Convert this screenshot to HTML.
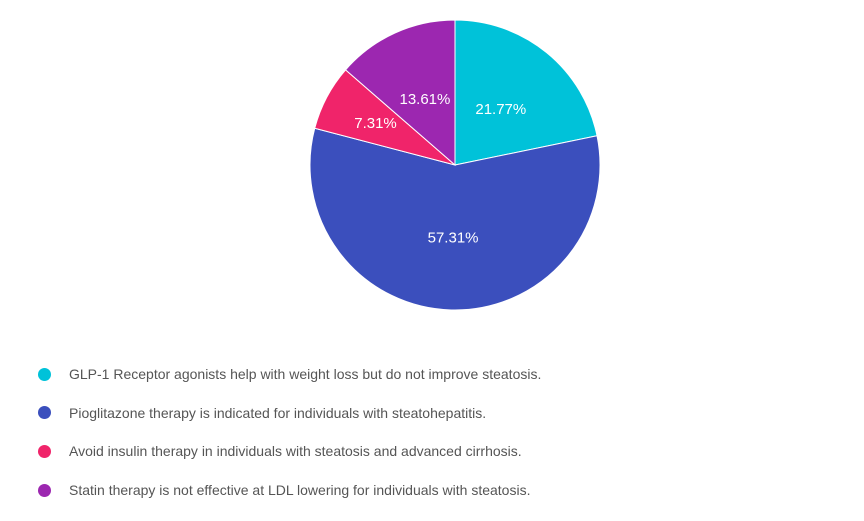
<!DOCTYPE html>
<html><head><meta charset="utf-8"><style>
body{margin:0;background:#fff;width:864px;height:521px;overflow:hidden;font-family:"Liberation Sans",Arial,sans-serif}
.leg{position:absolute;left:38px;font-size:14px;color:#555;display:flex;align-items:center}
.dot{width:13px;height:13px;border-radius:50%;margin-right:18px}
</style></head><body>
<svg id="chart" width="864" height="340" style="position:absolute;left:0;top:0"></svg>
<div id="legend"></div>
<script>
const categories=["GLP-1 Receptor agonists help with weight loss but do not improve steatosis.","Pioglitazone therapy is indicated for individuals with steatohepatitis.","Avoid insulin therapy in individuals with steatosis and advanced cirrhosis.","Statin therapy is not effective at LDL lowering for individuals with steatosis."];
const values=[21.77,57.31,7.31,13.61];
const colors=["#00c2d9","#3b4fbd","#f0246a","#9c27b0"];
const svg=document.getElementById('chart');const NS="http://www.w3.org/2000/svg";
const cx=455,cy=165,r=145;const total=values.reduce((a,b)=>a+b,0);
let a=0;
values.forEach((v,i)=>{
 const a0=a,a1=a+v/total*2*Math.PI;a=a1;
 const x0=cx+r*Math.sin(a0),y0=cy-r*Math.cos(a0),x1=cx+r*Math.sin(a1),y1=cy-r*Math.cos(a1);
 const p=document.createElementNS(NS,'path');
 p.setAttribute('d',`M${cx},${cy}L${x0},${y0}A${r},${r} 0 ${a1-a0>Math.PI?1:0} 1 ${x1},${y1}Z`);
 p.setAttribute('fill',colors[i]);p.setAttribute('stroke','#fff');p.setAttribute('stroke-width','1');
 
 
 svg.appendChild(p);
 const m=(a0+a1)/2,lr=r*0.5+(v<10?r*0.12:0);
 const t=document.createElementNS(NS,'text');
 t.setAttribute('x',cx+lr*Math.sin(m));t.setAttribute('y',cy-lr*Math.cos(m)+5);
 t.setAttribute('fill','#fff');t.setAttribute('font-size','15');t.setAttribute('text-anchor','middle');
 t.setAttribute('font-family','Liberation Sans, Arial, sans-serif');
 t.textContent=v.toFixed(2)+'%';
 
 
 svg.appendChild(t);
});
const lg=document.getElementById('legend');
categories.forEach((c,i)=>{
 const d=document.createElement('div');d.className='leg';d.style.top=(366+i*38.7)+'px';
 
 
 const s=document.createElement('span');s.className='dot';s.style.background=colors[i];
 
 
 d.appendChild(s);d.appendChild(document.createTextNode(c));lg.appendChild(d);
});
</script>
</body></html>
